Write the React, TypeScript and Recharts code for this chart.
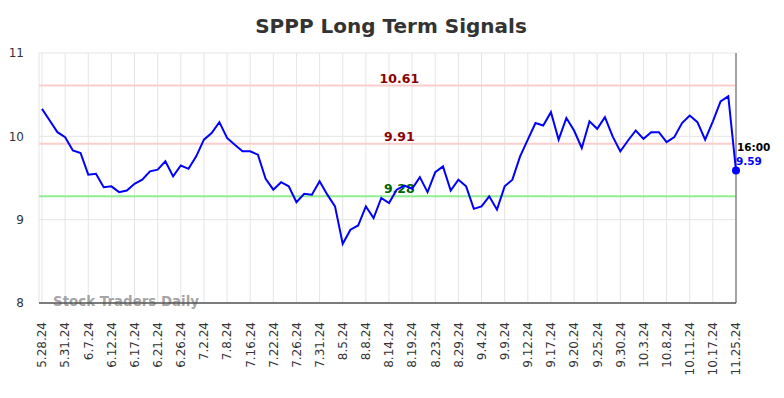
/**
 * SignalsChart
 *
 * Long term signal chart: closing price line with resistance/support levels.
 */

import {
  LineChart,
  Line,
  XAxis,
  YAxis,
  CartesianGrid,
  ReferenceLine,
  ReferenceDot,
  Customized,
} from 'recharts';

document.body.style.margin = '0';

const FONT = '"DejaVu Sans", sans-serif';

// x-axis tick labels, one every 3rd point
const tickLabels = [
  '5.28.24', '5.31.24', '6.7.24', '6.12.24', '6.17.24', '6.21.24', '6.26.24',
  '7.2.24', '7.8.24', '7.16.24', '7.22.24', '7.26.24', '7.31.24', '8.5.24',
  '8.8.24', '8.14.24', '8.19.24', '8.23.24', '8.29.24', '9.4.24', '9.9.24',
  '9.12.24', '9.17.24', '9.20.24', '9.25.24', '9.30.24', '10.3.24', '10.8.24',
  '10.11.24', '10.17.24', '11.25.24',
];

// closing prices
const prices = [
  10.33, 10.19, 10.05, 9.99, 9.83, 9.80, 9.54, 9.55, 9.39, 9.40,
  9.33, 9.35, 9.43, 9.48, 9.58, 9.60, 9.70, 9.52, 9.65, 9.61,
  9.76, 9.96, 10.04, 10.17, 9.98, 9.90, 9.82, 9.82, 9.78, 9.49,
  9.36, 9.45, 9.40, 9.21, 9.31, 9.30, 9.46, 9.30, 9.16, 8.71,
  8.88, 8.93, 9.16, 9.02, 9.26, 9.20, 9.36, 9.41, 9.37, 9.51,
  9.33, 9.57, 9.64, 9.35, 9.48, 9.40, 9.13, 9.16, 9.28, 9.12,
  9.40, 9.48, 9.76, 9.96, 10.16, 10.13, 10.29, 9.96, 10.22, 10.07,
  9.86, 10.18, 10.09, 10.23, 10.00, 9.82, 9.95, 10.07, 9.97, 10.05,
  10.05, 9.93, 9.99, 10.16, 10.25, 10.17, 9.96, 10.18, 10.42, 10.48,
  9.59,
];

const yTicks = [8, 9, 10, 11];

// signal levels
const resistanceHigh = 10.61;
const resistanceLow = 9.91;
const support = 9.28;

const lastTime = '16:00';

const chartData = prices.map((price, i) => ({ i, price }));
const xTicks = tickLabels.map((_, k) => k * 3);
const lastIndex = prices.length - 1;
const lastPrice = prices[lastIndex];

function DateTick({ x, y, payload }: any) {
  const label = tickLabels[Math.round(payload.value / 3)] ?? '';
  return (
    <text
      x={x}
      y={y}
      dy="0.36em"
      textAnchor="end"
      transform={`rotate(-90, ${x}, ${y})`}
      fill="#333"
      fontSize={12}
      fontFamily={FONT}
    >
      {label}
    </text>
  );
}

function levelLabel(text: string, color: string) {
  return ({ viewBox }: any) => (
    <text
      x={viewBox.x + viewBox.width * 0.517}
      y={viewBox.y - 3}
      textAnchor="middle"
      fill={color}
      fontSize={12.5}
      fontWeight="bold"
      fontFamily={FONT}
    >
      {text}
    </text>
  );
}

function LastLabel({ viewBox }: any) {
  const cx = viewBox.x + viewBox.width / 2;
  const cy = viewBox.y + viewBox.height / 2;
  return (
    <g fontFamily={FONT} fontSize={10.5} fontWeight="bold">
      <text x={cx + 1} y={cy - 20} fill="#000">
        {lastTime}
      </text>
      <text x={cx} y={cy - 6} fill="#0000ff">
        {lastPrice.toFixed(2)}
      </text>
    </g>
  );
}

function Decorations() {
  return (
    <g fontFamily={FONT} fontWeight="bold">
      <text x={391} y={33} textAnchor="middle" fontSize={20} fill="#333">
        SPPP Long Term Signals
      </text>
      <text x={53} y={306} fontSize={13.4} fill="#999" fillOpacity={0.9}>
        Stock Traders Daily
      </text>
    </g>
  );
}

export default function App() {
  return (
    <div style={{ width: 784, height: 398, background: '#fff' }}>
      <LineChart
        width={784}
        height={398}
        data={chartData}
        margin={{ top: 53, right: 48, left: 0, bottom: 0 }}
      >
        <CartesianGrid stroke="#e5e5e5" strokeWidth={1} />
        <XAxis
          dataKey="i"
          type="number"
          domain={[0, lastIndex]}
          ticks={xTicks}
          interval={0}
          padding={{ left: 3, right: 0 }}
          height={95}
          tickLine={false}
          tickSize={0}
          tickMargin={19}
          tick={<DateTick />}
          stroke="#555"
          strokeWidth={1.5}
        />
        <YAxis
          domain={[8, 11]}
          ticks={yTicks}
          width={39}
          axisLine={false}
          tickLine={false}
          tickMargin={9}
          tick={{ fill: '#333', fontSize: 12, fontFamily: FONT }}
        />
        {/* resistance and support levels */}
        <ReferenceLine
          y={resistanceHigh}
          stroke="#ffcccc"
          strokeWidth={2}
          label={levelLabel(resistanceHigh.toFixed(2), '#8b0000')}
        />
        <ReferenceLine
          y={resistanceLow}
          stroke="#ffcccc"
          strokeWidth={2}
          label={levelLabel(resistanceLow.toFixed(2), '#8b0000')}
        />
        <ReferenceLine
          y={support}
          stroke="#90ee90"
          strokeWidth={2}
          label={levelLabel(support.toFixed(2), '#006400')}
        />
        {/* current time marker */}
        <ReferenceLine x={lastIndex} stroke="#888" strokeWidth={1.5} />
        <Line
          type="linear"
          dataKey="price"
          stroke="#0000ff"
          strokeWidth={2}
          dot={false}
          isAnimationActive={false}
        />
        <ReferenceDot
          x={lastIndex}
          y={lastPrice}
          r={4}
          fill="#0000ff"
          stroke="none"
          label={<LastLabel />}
        />
        <Customized component={<Decorations />} />
      </LineChart>
    </div>
  );
}
